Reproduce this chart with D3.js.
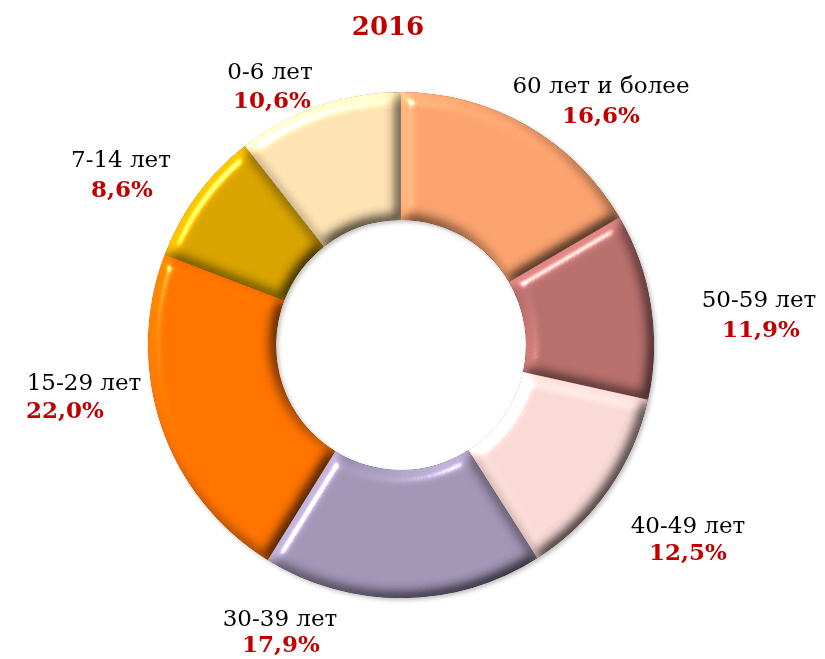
<!DOCTYPE html>
<html>
<head>
<meta charset="utf-8">
<script src="https://cdn.jsdelivr.net/npm/d3@7"></script>
<style>
  body { margin: 0; background: #fff; }
  svg { display: block; }
</style>
</head>
<body>
<svg></svg>
<script>
const width = 825;
const height = 659;

const title = "2016";
const groups = ["60 лет и более", "50-59 лет", "40-49 лет", "30-39 лет", "15-29 лет", "7-14 лет", "0-6 лет"];
const shares = [16.6, 11.9, 12.5, 17.9, 22.0, 8.6, 10.6];
const colors = ["#FBA36F", "#B8706D", "#F9D9D5", "#A295B6", "#FF7300", "#D9A400", "#FDE2B2"];

// where the two lines of each label sit: [x of name, y of name, x of percent, y of percent]
const labelPos = [
    [601, 93, 601, 123],
    [759, 307, 761, 337],
    [688, 533, 688, 560],
    [280, 626, 281, 652],
    [84, 390, 65, 418],
    [121, 167, 122, 197],
    [270, 79, 272, 108]
];

const cx = 401;
const cy = 345;
const outerR = 253;
const innerR = 125;

let svg = d3.select("svg")
    .attr("width", width)
    .attr("height", height);

let defs = svg.append("defs");

// bevel look: light from upper-left on a blurred alpha surface
let f = defs.append("filter")
    .attr("id", "bevel")
    .attr("x", "-5%").attr("y", "-5%")
    .attr("width", "110%").attr("height", "110%")
    .attr("color-interpolation-filters", "sRGB");
f.append("feGaussianBlur")
    .attr("in", "SourceAlpha")
    .attr("stdDeviation", 6.5)
    .attr("result", "blur");
f.append("feDiffuseLighting")
    .attr("in", "blur")
    .attr("surfaceScale", 6)
    .attr("diffuseConstant", 1)
    .attr("lighting-color", "#fff")
    .attr("result", "diff")
    .append("feDistantLight")
    .attr("azimuth", 225)
    .attr("elevation", 55);
f.append("feComposite")
    .attr("in", "SourceGraphic")
    .attr("in2", "diff")
    .attr("operator", "arithmetic")
    .attr("k1", 1 / Math.sin(55 * Math.PI / 180))
    .attr("k2", 0).attr("k3", 0).attr("k4", 0)
    .attr("result", "lit");
f.append("feSpecularLighting")
    .attr("in", "blur")
    .attr("surfaceScale", 6)
    .attr("specularConstant", 0.6)
    .attr("specularExponent", 110)
    .attr("lighting-color", "#fff")
    .attr("result", "spec")
    .append("feDistantLight")
    .attr("azimuth", 225)
    .attr("elevation", 55);
f.append("feComposite")
    .attr("in", "spec")
    .attr("in2", "SourceAlpha")
    .attr("operator", "in")
    .attr("result", "specIn");
f.append("feComposite")
    .attr("in", "lit")
    .attr("in2", "specIn")
    .attr("operator", "arithmetic")
    .attr("k1", 0).attr("k2", 1).attr("k3", 1).attr("k4", 0);

let shadow = defs.append("filter")
    .attr("id", "shadow")
    .attr("x", "-10%").attr("y", "-10%")
    .attr("width", "120%").attr("height", "120%");
shadow.append("feDropShadow")
    .attr("dx", 2).attr("dy", 2)
    .attr("stdDeviation", 2)
    .attr("flood-color", "#000")
    .attr("flood-opacity", 0.25);

let pie = d3.pie().sort(null).value(d => d);
let arc = d3.arc().innerRadius(innerR).outerRadius(outerR);
let arcs = pie(shares);

let ring = svg.append("g")
    .attr("transform", `translate(${cx}, ${cy})`)
    .attr("filter", "url(#shadow)");

ring.selectAll("path")
    .data(arcs)
    .enter()
    .append("path")
    .attr("d", arc)
    .attr("fill", (d, i) => colors[i])
    .attr("filter", "url(#bevel)");

svg.append("text")
    .attr("x", 388)
    .attr("y", 35)
    .attr("text-anchor", "middle")
    .style("font-family", "'DejaVu Serif', serif")
    .style("font-weight", "bold")
    .style("font-size", "26px")
    .style("fill", "#C00000")
    .text(title);

let labels = svg.append("g")
    .style("font-family", "'DejaVu Serif', serif");

groups.forEach((name, i) => {
    let p = labelPos[i];
    labels.append("text")
        .attr("x", p[0])
        .attr("y", p[1])
        .attr("text-anchor", "middle")
        .style("font-size", "23px")
        .style("fill", "#000")
        .text(name);
    labels.append("text")
        .attr("x", p[2])
        .attr("y", p[3])
        .attr("text-anchor", "middle")
        .style("font-size", "23px")
        .style("font-weight", "bold")
        .style("fill", "#C00000")
        .text(d3.format(".1f")(shares[i]).replace(".", ",") + "%");
});
</script>
</body>
</html>
